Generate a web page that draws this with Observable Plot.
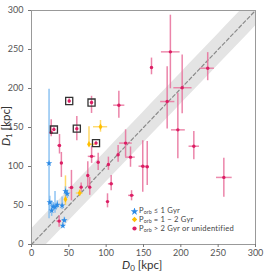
<!DOCTYPE html>
<html><head><meta charset="utf-8">
<script src="https://cdn.jsdelivr.net/npm/d3@7"></script>
<script src="https://cdn.jsdelivr.net/npm/@observablehq/plot@0.6"></script>
<style>
body{margin:0;background:#fff;}
#wrap{position:relative;width:269px;height:279px;font-family:Lato,"DejaVu Sans",sans-serif;color:#333;}
.lab{position:absolute;font-size:11.5px;line-height:12px;white-space:nowrap;color:#333;}
.lab sub{font-size:8px;vertical-align:-2px;line-height:0;}
#legend{position:absolute;left:131px;top:206px;font-size:7.6px;line-height:8.8px;color:#444;letter-spacing:0.2px;}
#legend div{white-space:nowrap;height:8.8px;overflow:visible;}
#legend sub{font-size:5.3px;vertical-align:-1px;line-height:0;letter-spacing:0;}
#legend svg{vertical-align:middle;margin-right:1px;}
</style></head>
<body><div id="wrap"></div>
<script>
// category: 1 = P_orb <= 1 Gyr, 2 = 1-2 Gyr, 3 = > 2 Gyr or unidentified
const cat  = [3,3,3,3,3,3,3,3,3,3,3,3,3,3,3,3,3,3,3,3,3,3,3,3,3,3,3,3,3,3,3,3,3, 2,2,2,2, 1,1,1,1,1,1,1,1,1,1,1];
const d0   = [50.5,80.4,117,30,26.4,60.7,86.4,37.5,40,126,116,132.6,89.3,103,80.5,75.4,78,66.5,53.5,106.7,134,101.8,37,149,155,257.6,217.4,196,181.7,201.8,186,160.7,236, 92.4,77,45.5,64.5, 23.5,24.5,27,29,31.5,34.5,41,45.5,47.8,42,44];
const d1   = [184,182,178.6,147.4,143.6,148.5,130,127,104.5,130,115,112,105.5,102.6,113,88.5,73.5,73.5,73,77.8,63,55,30,100.4,99.6,86,126,147,183.3,201,247,227,226, 151,128.5,58,66, 104,54,43.5,48.7,48,51,50,68.3,65,24,31];
const d0lo = [50.5,80.4,110,30,26.4,60.7,86.4,35,40,118,116,126,89.3,103,76,75.4,78,66.5,50,103,130,101.8,34,144,150,247.8,211,187.5,173,190.6,174,160.7,226, 83,77,45.5,60, 23.5,24.5,27,29,31.5,34.5,41,45.5,47.8,42,41];
const d0hi = [50.5,80.4,125,30,26.4,60.7,86.4,40,40,135,116,139,89.3,103,86,75.4,78,66.5,57,110,138,101.8,40,154,158,268.8,225,206,192,215,199,160.7,245, 102,88,45.5,69, 23.5,24.5,27,29,31.5,34.5,41,45.5,47.8,42,47];
const d1lo = [181,168,162,145,138,133,128,116,86,112,105.5,99,95,95,104,73.5,63,68,56,69,56,47,22,67,75.6,60.7,108.6,110,148,167.5,199.6,217.6,210, 144,128.5,50,62, 33,45,36,44,40,46,45,63,59,21,28];
const d1hi = [187,190,196.5,150,160,164,132,141,118,147,127,125,117,112,126,106,86,79,95,88.5,69,65,37,133,132,110.7,145,194,228,243,294,239,246, 159,151,88,70, 199,62,56,54,68,56,61,74,70,28,35];
const boxed= [1,1,0,1,0,1,1,0,0,0,0,0,0,0,0,0,0,0,0,0,0,0,0,0,0,0,0,0,0,0,0,0,0, 0,0,0,0, 0,0,0,0,0,0,0,0,0,0,0];
const xTicks = [0,50,100,150,200,250,300];
const yTicks = [0,50,100,150,200,250,300];
const bandHalf = 20;

const catColor = {1:"#2b8ae6",2:"#ffbf00",3:"#dc1e64"};
const barColor = {1:"#7ab8f0",2:"#ffd24d",3:"#e86f9a"};
const catSymbol = {1:"star",2:"diamond",3:"circle"};
const catR = {1:2.0,2:2.0,3:1.7};

const data = cat.map((c,i)=>({c, x:d0[i], y:d1[i], xlo:d0lo[i], xhi:d0hi[i], ylo:d1lo[i], yhi:d1hi[i], boxed:boxed[i]}));
const band = d3.range(-30, 331, 10).map(v=>({x:v, lo:v-bandHalf, hi:v+bandHalf}));
const diag = [{v:0},{v:300}];

const plot = Plot.plot({
  width:269, height:279,
  marginLeft:31, marginRight:14, marginTop:10, marginBottom:35,
  style:{fontFamily:"Lato, 'DejaVu Sans', sans-serif", fontSize:"9px", color:"#555", background:"#fff"},
  x:{domain:[0,300], label:null},
  y:{domain:[0,300], label:null},
  marks:[
    Plot.areaY(band, {x:"x", y1:"lo", y2:"hi", fill:"#e4e4e4", clip:true}),
    Plot.line(diag, {x:"v", y:"v", stroke:"#8a8a8a", strokeWidth:1.2, strokeDasharray:"3.5,2.5"}),
    Plot.ruleY(data.filter(d=>d.xhi>d.xlo), {y:"y", x1:"xlo", x2:"xhi", stroke:d=>barColor[d.c], strokeWidth:1.5, strokeOpacity:0.8}),
    Plot.ruleX(data, {x:"x", y1:"ylo", y2:"yhi", stroke:d=>barColor[d.c], strokeWidth:1.5, strokeOpacity:0.85}),
    ...[3,2,1].map(c=>Plot.dot(data.filter(d=>d.c===c), {x:"x", y:"y", fill:catColor[c], symbol:catSymbol[c], r:catR[c], stroke:"none"})),
    Plot.dot(data.filter(d=>d.boxed), {x:"x", y:"y", symbol:"square", r:4.0, stroke:"#333", strokeWidth:1.3, fill:"none"}),
    Plot.frame({stroke:"#999", strokeWidth:1}),
    Plot.axisX({ticks:xTicks, tickSize:3, tickPadding:2, stroke:"#777", fill:"#555"}),
    Plot.axisY({ticks:yTicks, tickSize:3, tickPadding:5, stroke:"#777", fill:"#555"})
  ]
});
const wrap = document.getElementById("wrap");
plot.style.position="absolute"; plot.style.left="0"; plot.style.top="0";
wrap.appendChild(plot);

const xl = document.createElement("div");
xl.className="lab"; xl.style.left="122px"; xl.style.top="259px";
xl.innerHTML = "<i>D</i><sub>0</sub> [kpc]";
wrap.appendChild(xl);
const yl = document.createElement("div");
yl.className="lab"; yl.style.left="-14px"; yl.style.top="120px"; yl.style.transform="rotate(-90deg)";
yl.innerHTML = "<i>D</i><sub>1</sub> [kpc]";
wrap.appendChild(yl);

function sym(type, color, size){
  const p = d3.symbol(type==="star"?d3.symbolStar:type==="diamond"?d3.symbolDiamond2:d3.symbolCircle, size)();
  return `<svg width="7" height="7" viewBox="-3.5 -3.5 7 7"><path d="${p}" fill="${color}"/></svg>`;
}
const legendLabels = ["P<sub>orb</sub> \u2264 1 Gyr","P<sub>orb</sub> = 1 \u2212 2 Gyr","P<sub>orb</sub> &gt; 2 Gyr or unidentified"];
const lg = document.createElement("div"); lg.id="legend";
lg.innerHTML = [1,2,3].map((c,i)=>`<div>${sym(catSymbol[c],catColor[c],c===1?20:c===2?18:14)}${legendLabels[i]}</div>`).join("");
wrap.appendChild(lg);
</script></body></html>
